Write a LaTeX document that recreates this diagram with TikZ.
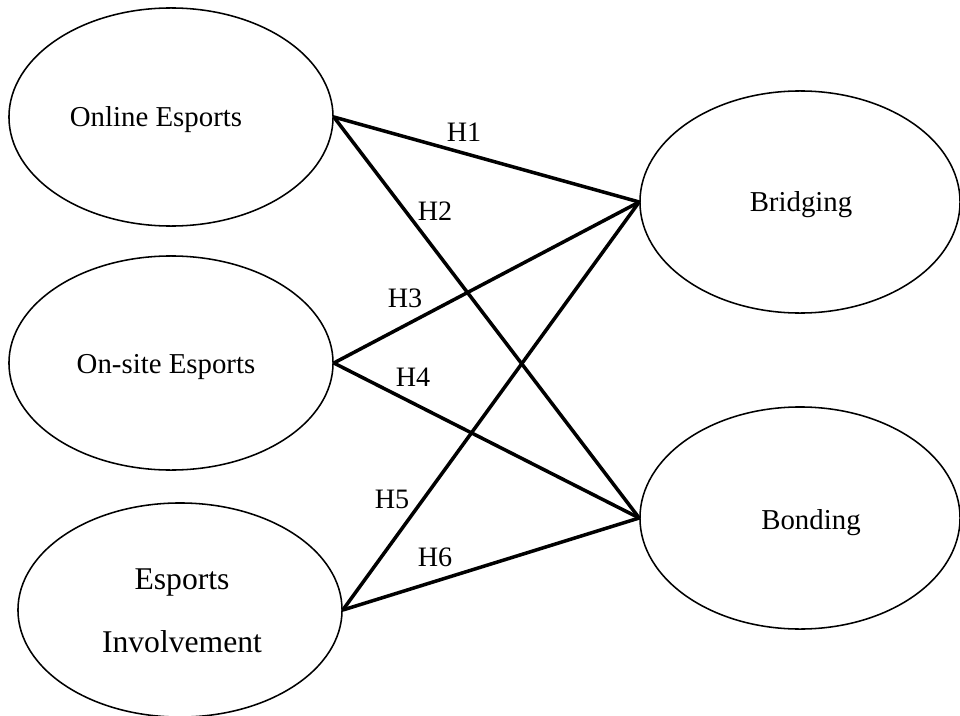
\documentclass[tikz,border=0pt]{standalone}
\usepackage{fontspec}
\setmainfont{Liberation Serif}
\usetikzlibrary{shapes.geometric, positioning}

\begin{document}
\begin{tikzpicture}[x=0.025cm, y=-0.025cm,
    construct/.style={draw, ellipse, line width=1.1pt, minimum width=8.1cm, minimum height=5.45cm, inner sep=0pt},
    ctext/.style={font=\fontsize{20.5}{24}\selectfont},
    hyp/.style={font=\fontsize{20}{23}\selectfont},
    path/.style={line width=2.5pt}]
    \useasboundingbox (0,0) rectangle (960,716);

    % Independent constructs
    \node[construct] (online) at (171,117) {};
    \node[ctext] (onlinetxt) at (156,120) {Online Esports};
    \node[construct, minimum height=5.35cm] (onsite) at (171,363) {};
    \node[ctext] (onsitetxt) at (166,367) {On-site Esports};
    \node[construct, minimum height=5.35cm] (involve) at (180,610) {};
    \node[ctext, font=\fontsize{22.5}{26}\selectfont] (involvetxt1) at (182,583) {Esports};
    \node[ctext, font=\fontsize{22.5}{26}\selectfont] (involvetxt2) at (182,642) {Involvement};

    % Dependent constructs
    \node[construct, minimum width=8cm, minimum height=5.55cm] (bridging) at (800,202) {};
    \node[ctext] (bridgingtxt) at (801,205) {Bridging};
    \node[construct, minimum width=8cm, minimum height=5.55cm] (bonding) at (800,518) {};
    \node[ctext] (bondingtxt) at (811,523) {Bonding};

    % Hypothesised paths
    \draw[path] (online.east) -- (bridging.west);
    \draw[path] (online.east) -- (bonding.west);
    \draw[path] (onsite.east) -- (bridging.west);
    \draw[path] (onsite.east) -- (bonding.west);
    \draw[path] (involve.east) -- (bridging.west);
    \draw[path] (involve.east) -- (bonding.west);

    % Path labels
    \node[hyp] (h1) at (464,132) {H1};
    \node[hyp] (h2) at (435,211) {H2};
    \node[hyp] (h3) at (405,298) {H3};
    \node[hyp] (h4) at (413,377) {H4};
    \node[hyp] (h5) at (392,499) {H5};
    \node[hyp] (h6) at (435,557) {H6};
\end{tikzpicture}
\end{document}
